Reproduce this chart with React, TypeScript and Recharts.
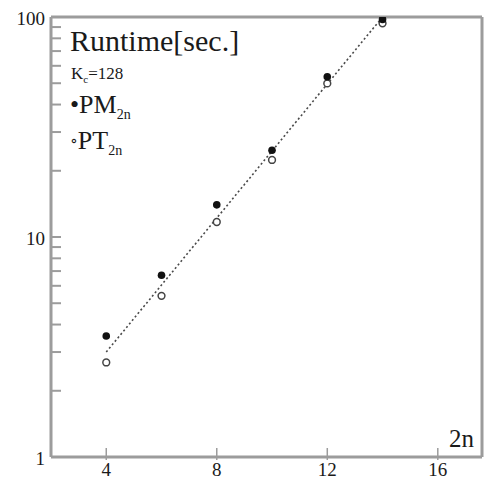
import { ScatterChart, Scatter, XAxis, YAxis, ReferenceLine } from "recharts";

const sizes = [4, 6, 8, 10, 12, 14];
const pmRuntime = [3.55, 6.7, 14.0, 24.8, 53.5, 97.5];
const ptRuntime = [2.69, 5.4, 11.7, 22.4, 49.9, 93.6];
const fitSizes = [4, 14];
const fitRuntime = [3.0, 100];
const xTicks = [4, 8, 12, 16];
const yTicks = [1, 2, 3, 4, 5, 6, 7, 8, 9, 10, 20, 30, 40, 50, 60, 70, 80, 90, 100];
const yLabels = [1, 10, 100];

const pmData = sizes.map((x, i) => ({ x, y: pmRuntime[i] }));
const ptData = sizes.map((x, i) => ({ x, y: ptRuntime[i] }));
const fitData = fitSizes.map((x, i) => ({ x, y: fitRuntime[i] }));

const AXIS = "#9c9c9c";
const INK = "#1a1a1a";
const FONT = "'Liberation Serif', 'DejaVu Serif', serif";

function YTick(props: any) {
  const { x, y, payload } = props;
  const labelled = yLabels.includes(payload.value);
  return (
    <g>
      <line x1={x} x2={x + 10} y1={y} y2={y} stroke={AXIS} strokeWidth={2} />
      {labelled && (
        <text x={x - 6} y={y + 8} textAnchor="end" fontSize={19} fontFamily={FONT} fill={INK}>
          {payload.value}
        </text>
      )}
    </g>
  );
}

function XTick(props: any) {
  const { x, y, payload } = props;
  return (
    <g>
      <line x1={x} x2={x} y1={y - 9} y2={y + 3} stroke={AXIS} strokeWidth={1.5} />
      <text x={x} y={y + 19} textAnchor="middle" fontSize={19} fontFamily={FONT} fill={INK}>
        {payload.value}
      </text>
    </g>
  );
}

const FilledDot = (p: any) => <circle cx={p.cx} cy={p.cy} r={3.8} fill="#111" />;
const OpenDot = (p: any) => (
  <circle cx={p.cx} cy={p.cy} r={3.4} fill="#fff" stroke="#444" strokeWidth={1.5} />
);
const NoDot = () => null;

export default function App() {
  return (
    <div style={{ position: "absolute", left: 0, top: 0, width: 485, height: 479, background: "#fff" }}>
      <ScatterChart width={485} height={479} margin={{ top: 17, right: 3, bottom: 0, left: 0 }}>
        <XAxis
          type="number"
          dataKey="x"
          domain={[2, 17.6]}
          ticks={xTicks}
          tick={<XTick />}
          tickLine={false}
          tickSize={0}
          tickMargin={0}
          height={22}
          axisLine={{ stroke: AXIS, strokeWidth: 3 }}
          allowDataOverflow
        />
        <YAxis
          type="number"
          dataKey="y"
          scale="log"
          domain={[1, 100]}
          ticks={yTicks}
          interval={0}
          tick={<YTick />}
          tickLine={false}
          tickSize={0}
          tickMargin={0}
          width={51}
          axisLine={{ stroke: AXIS, strokeWidth: 3 }}
          allowDataOverflow
        />
        <ReferenceLine y={100} stroke={AXIS} strokeWidth={3} />
        <ReferenceLine x={17.6} stroke={AXIS} strokeWidth={3} />
        <Scatter
          data={fitData}
          line={{ stroke: "#4a4a4a", strokeWidth: 1.6, strokeDasharray: "2 2.5" }}
          shape={NoDot}
          isAnimationActive={false}
        />
        <Scatter data={ptData} shape={OpenDot} isAnimationActive={false} />
        <Scatter data={pmData} shape={FilledDot} isAnimationActive={false} />
      </ScatterChart>
      <div style={{ position: "absolute", left: 70, top: 24, fontFamily: FONT, color: INK, fontSize: 30, lineHeight: "34px", whiteSpace: "nowrap" }}>
        Runtime[sec.]
      </div>
      <div style={{ position: "absolute", left: 71, top: 64, fontFamily: FONT, color: INK, fontSize: 17, lineHeight: "20px", whiteSpace: "nowrap" }}>
        K<sub style={{ fontSize: 11 }}>c</sub>=128
      </div>
      <div style={{ position: "absolute", left: 70, top: 90, fontFamily: FONT, color: INK, fontSize: 26, lineHeight: "30px", whiteSpace: "nowrap" }}>
        •PM<sub style={{ fontSize: 14 }}>2n</sub>
      </div>
      <div style={{ position: "absolute", left: 70, top: 126, fontFamily: FONT, color: INK, fontSize: 26, lineHeight: "30px", whiteSpace: "nowrap" }}>
        <span style={{ fontSize: 16, position: "relative", top: -3 }}>∘</span>PT<sub style={{ fontSize: 14 }}>2n</sub>
      </div>
      <div style={{ position: "absolute", left: 449, top: 425, fontFamily: FONT, color: INK, fontSize: 25, lineHeight: "28px" }}>
        2n
      </div>
    </div>
  );
}
